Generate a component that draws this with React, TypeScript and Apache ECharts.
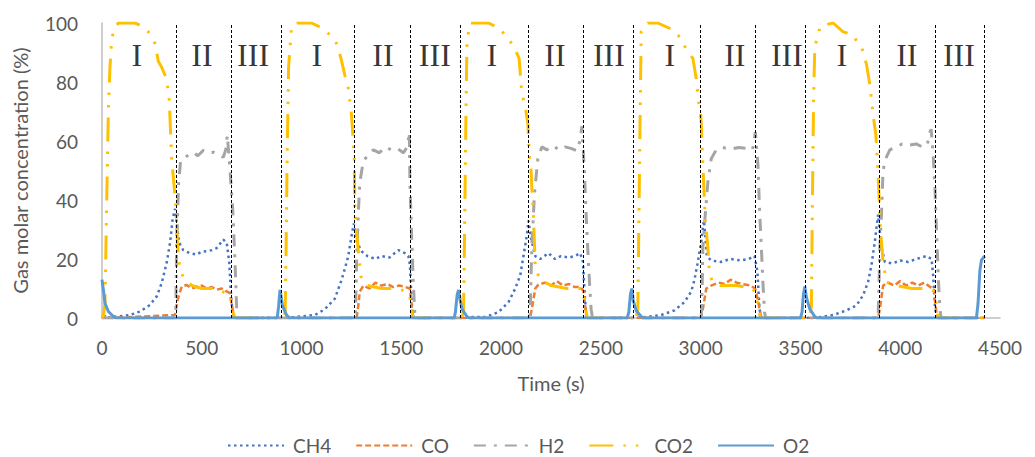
import React, { useEffect, useRef } from "react";
import * as echarts from "echarts";

// [time (s), concentration (%)]
const ch4Data: number[][] = [
  [0, 0], [74, 0.5], [140, 1], [190, 2.2], [240, 4.4], [274, 7.3], [299, 11.8], [324, 18.7], [341, 25.5], [354, 33.5], [366, 37], [378, 30], [387, 25.5], [407, 23], [441, 22], [474, 21.5], [500, 22.5], [524, 22.6], [550, 23], [575, 23.7], [608, 26.6], [625, 25.5], [638, 18.7], [646, 8.4], [655, 1], [665, 0],
  [897, 0], [967, 0.3], [1067, 1], [1117, 3], [1167, 6.6], [1201, 13], [1218, 17], [1234, 21], [1251, 28], [1262, 32], [1276, 26], [1301, 22.6], [1330, 21], [1370, 20], [1400, 21], [1440, 20.5], [1485, 23], [1518, 22], [1535, 21], [1543, 18], [1550, 8], [1556, 1], [1565, 0],
  [1795, 0], [1854, 0.3], [1920, 0.3], [1987, 2], [2037, 5.4], [2071, 10], [2096, 14.5], [2112, 21], [2129, 28], [2137, 33], [2150, 27], [2171, 21], [2196, 20], [2237, 22], [2270, 20], [2300, 21], [2340, 20.5], [2370, 21], [2396, 22], [2410, 19], [2418, 9], [2426, 1], [2435, 0],
  [2664, 0], [2719, 0.3], [2802, 1], [2869, 2.6], [2919, 5.4], [2953, 9], [2969, 13], [2986, 19], [3003, 26], [3016, 33], [3023, 28], [3031, 21], [3053, 19.5], [3100, 19], [3150, 20], [3200, 19.5], [3240, 20], [3270, 21], [3284, 16], [3295, 3], [3304, 0],
  [3527, 0], [3597, 0.3], [3664, 1], [3731, 2.6], [3781, 4.3], [3814, 7.7], [3839, 12.3], [3856, 18], [3873, 26], [3889, 35], [3898, 29], [3906, 24], [3923, 19], [3960, 18.5], [4000, 19.5], [4040, 19], [4080, 20], [4132, 21], [4157, 20], [4165, 14.5], [4174, 4], [4182, 0], [4424, 0],
];

const coData: number[][] = [
  [0, 0], [10, 1], [25, 0], [366, 1], [378, 6], [399, 10.6], [424, 11.2], [450, 10], [474, 10.6], [500, 11], [524, 10], [550, 10.5], [575, 9.6], [600, 10], [625, 9], [641, 8.4], [655, 2.7], [661, 0],
  [897, 0], [1276, 0], [1284, 4], [1292, 9], [1310, 11], [1340, 10], [1370, 12], [1400, 11], [1430, 11.5], [1460, 10.5], [1490, 11], [1520, 10.5], [1543, 10], [1552, 4], [1560, 0],
  [1795, 0], [2145, 0], [2154, 3], [2171, 10], [2187, 11.3], [2220, 12], [2250, 11], [2280, 12.5], [2310, 11], [2340, 11.5], [2370, 10.5], [2400, 10.5], [2413, 9], [2429, 0],
  [2664, 0], [3000, 0], [3011, 3], [3028, 10], [3053, 11], [3090, 12], [3120, 11.5], [3150, 13], [3180, 12], [3210, 11.5], [3250, 11], [3273, 10], [3287, 6], [3304, 0],
  [3527, 0], [3889, 0], [3898, 3], [3914, 11], [3940, 12], [3970, 11], [4000, 12.5], [4030, 11], [4060, 12], [4090, 11], [4120, 12], [4150, 10.5], [4170, 10], [4174, 6], [4185, 0], [4424, 0],
];

const h2Data: number[][] = [
  [0, 0], [366, 0], [370, 3], [374, 25.5], [384, 46], [394, 53.3], [416, 54.5], [440, 55.5], [458, 56.2], [480, 55], [508, 56.8], [530, 56], [558, 56.2], [580, 55.5], [608, 54.5], [620, 57], [628, 62], [641, 50.5], [655, 37], [666, 20], [675, 3], [680, 0],
  [1270, 0], [1276, 20], [1284, 35], [1292, 46], [1309, 53], [1330, 55], [1360, 57], [1390, 56], [1420, 58], [1450, 57], [1480, 57.5], [1510, 56], [1530, 58], [1540, 63], [1543, 46], [1551, 29], [1560, 12], [1568, 1], [1575, 0],
  [2145, 0], [2150, 15], [2154, 24], [2167, 42], [2184, 54], [2204, 58], [2230, 57], [2260, 58.4], [2290, 57], [2320, 58], [2350, 57.5], [2380, 56.7], [2395, 60], [2405, 65], [2418, 48.6], [2426, 35], [2434, 23.7], [2443, 12], [2451, 3], [2458, 0],
  [3003, 0], [3008, 12], [3011, 24], [3023, 35], [3036, 46], [3053, 54], [3078, 57], [3110, 57.8], [3150, 57.2], [3190, 57.8], [3230, 57.5], [3260, 57], [3274, 63], [3287, 52], [3295, 37], [3304, 24], [3312, 12], [3320, 2], [3326, 0],
  [3889, 0], [3894, 12], [3898, 24], [3906, 35], [3914, 50], [3927, 54], [3948, 57], [3980, 58], [4010, 59], [4040, 58.5], [4080, 59], [4110, 58], [4135, 58.5], [4149, 63], [4155, 64], [4165, 55.5], [4174, 44], [4179, 35], [4185, 24], [4192, 12], [4199, 3], [4205, 0], [4424, 0],
];

const co2Data: number[][] = [
  [0, 0], [8, 1], [15, 5], [23, 37], [32, 71], [40, 85], [48, 94], [60, 98], [82, 100], [110, 100], [140, 100], [165, 100], [199, 99], [232, 97], [266, 93], [282, 87], [299, 85], [324, 81], [337, 74], [349, 54], [361, 45], [371, 37], [378, 25], [391, 16], [416, 13], [450, 11], [500, 10], [550, 10], [600, 9], [641, 8], [650, 4], [660, 1], [668, 0],
  [910, 0], [918, 2], [922, 20], [928, 55], [935, 85], [950, 99], [980, 100], [1050, 100], [1112, 98], [1170, 94], [1190, 90], [1201, 87], [1218, 82], [1234, 78], [1250, 69], [1264, 55], [1267, 38], [1276, 29], [1288, 20], [1300, 13], [1330, 11], [1400, 10], [1470, 10], [1530, 9], [1543, 7], [1552, 2], [1560, 0],
  [1805, 0], [1812, 3], [1818, 35], [1824, 70], [1829, 94], [1845, 100], [1900, 100], [1937, 100], [1995, 98], [2054, 93], [2071, 91], [2090, 88], [2096, 83], [2104, 76], [2120, 72], [2134, 66], [2142, 55], [2150, 50], [2154, 44], [2162, 35], [2171, 17], [2196, 13], [2250, 11], [2330, 10], [2400, 10], [2413, 9], [2421, 4], [2432, 0],
  [2675, 0], [2685, 3], [2690, 30], [2696, 65], [2702, 97], [2735, 100], [2785, 100], [2852, 98], [2900, 95], [2928, 91], [2961, 88], [2978, 81], [2990, 73], [3000, 69], [3003, 66], [3011, 52], [3023, 33], [3036, 24], [3044, 15], [3061, 12], [3100, 11], [3180, 11], [3260, 10], [3278, 8], [3290, 3], [3300, 0],
  [3545, 0], [3555, 4], [3560, 40], [3566, 75], [3572, 92], [3600, 99], [3664, 100], [3714, 97], [3764, 96], [3789, 93], [3806, 92], [3831, 86], [3848, 79], [3864, 69], [3878, 62], [3889, 49], [3894, 41], [3901, 30], [3914, 19], [3931, 12], [3980, 11], [4060, 10], [4140, 10], [4170, 9], [4180, 5], [4190, 0], [4424, 0],
];

const o2Data: number[][] = [
  [0, 13], [8, 9], [15, 5], [32, 2.2], [57, 0.5], [70, 0], [878, 0], [885, 4], [892, 9.5], [898, 7], [905, 4], [925, 1], [940, 0],
  [1765, 0], [1771, 2], [1780, 8], [1787, 9.5], [1795, 6], [1804, 3], [1829, 0.5], [1840, 0],
  [2632, 0], [2640, 2], [2648, 8], [2655, 10], [2662, 6], [2677, 2.5], [2702, 0.5], [2712, 0],
  [3500, 0], [3508, 2], [3515, 8], [3522, 10.7], [3530, 7], [3547, 3], [3572, 0.5], [3582, 0],
  [4382, 0], [4390, 5], [4399, 16], [4407, 19.7], [4424, 21],
];

const phaseBoundaries = [371, 646, 896, 1264, 1547, 1795, 2138, 2410, 2664, 2999, 3275, 3525, 3894, 4177, 4422];
const phaseLabelTimes = [175, 501, 757, 1077, 1408, 1668, 1954, 2270, 2540, 2846, 3171, 3432, 3707, 4033, 4294];
const phaseLabelTexts = ["I", "II", "III", "I", "II", "III", "I", "II", "III", "I", "II", "III", "I", "II", "III"];
const phaseLabelLevel = 89;

const seriesNames = ["CH4", "CO", "H2", "CO2", "O2"];
const xTicks = { min: 0, max: 4500, interval: 500 };
const yTicks = { min: 0, max: 100, interval: 20 };

const textColor = "#595959";
const font = "Lato";

export default function App() {
  const ref = useRef<HTMLDivElement>(null);
  useEffect(() => {
    const chart = echarts.init(ref.current!, null, { renderer: "svg" });
    const mkLine = (name: string, data: number[][], color: string, type: any, width: number, extra: any = {}) => ({
      name,
      type: "line",
      data,
      symbol: "none",
      showSymbol: false,
      lineStyle: { color, type, width, cap: "butt" },
      itemStyle: { color },
      ...extra,
    });
    chart.setOption({
      animation: false,
      grid: { left: 102, right: 35, top: 23, bottom: 139 },
      xAxis: {
        type: "value",
        min: xTicks.min,
        max: xTicks.max,
        interval: xTicks.interval,
        name: "Time (s)",
        nameLocation: "middle",
        nameGap: 55,
        nameTextStyle: { color: textColor, fontSize: 20, fontFamily: font },
        axisLine: { show: true, lineStyle: { color: "#BFBFBF", width: 1.5 } },
        axisTick: { show: false },
        splitLine: { show: false },
        axisLabel: { color: textColor, fontSize: 19, fontFamily: font, margin: 20, formatter: (v: number) => String(v) },
      },
      yAxis: {
        type: "value",
        min: yTicks.min,
        max: yTicks.max,
        interval: yTicks.interval,
        name: "Gas molar concentration (%)",
        nameLocation: "middle",
        nameGap: 72,
        nameTextStyle: { color: textColor, fontSize: 20, fontFamily: font },
        axisLine: { show: true, lineStyle: { color: "#BFBFBF", width: 1.5 } },
        axisTick: { show: false },
        splitLine: { show: false },
        axisLabel: { color: textColor, fontSize: 19, fontFamily: font, margin: 24, formatter: (v: number) => String(v) },
      },
      legend: {
        data: seriesNames,
        left: 222,
        top: 431,
        itemWidth: 56,
        itemHeight: 14,
        itemGap: 24,
        itemStyle: { opacity: 0 },
        textStyle: { color: textColor, fontSize: 19, lineHeight: 19, fontFamily: font, padding: [0, 0, 0, 4] },
      },
      series: [
        mkLine("CH4", ch4Data, "#4472C4", [2.5, 3.5], 2.5),
        mkLine("CO", coData, "#ED7D31", [6, 3], 2.5),
        mkLine("H2", h2Data, "#A5A5A5", [12, 8, 3, 8], 3),
        mkLine("CO2", co2Data, "#FFC000", [24, 10, 2.5, 10, 2.5, 10], 3),
        mkLine("O2", o2Data, "#5B9BD5", "solid", 3, {
          markLine: {
            silent: true,
            symbol: "none",
            label: { show: false },
            lineStyle: { color: "#000", type: [3, 2], width: 1 },
            data: phaseBoundaries.map((t) => ({ xAxis: t })),
          },
        }),
        {
          name: "phases",
          type: "scatter",
          symbolSize: 0,
          silent: true,
          data: phaseLabelTimes.map((t, i) => ({ value: [t, phaseLabelLevel], name: phaseLabelTexts[i] })),
          label: {
            show: true,
            position: "inside",
            formatter: (p: any) => p.name,
            color: "#000",
            fontSize: 32,
            fontFamily: "Liberation Serif",
          },
        },
      ],
    });
    return () => chart.dispose();
  }, []);
  return <div ref={ref} style={{ position: "absolute", left: 0, top: 0, width: 1035, height: 457 }} />;
}
